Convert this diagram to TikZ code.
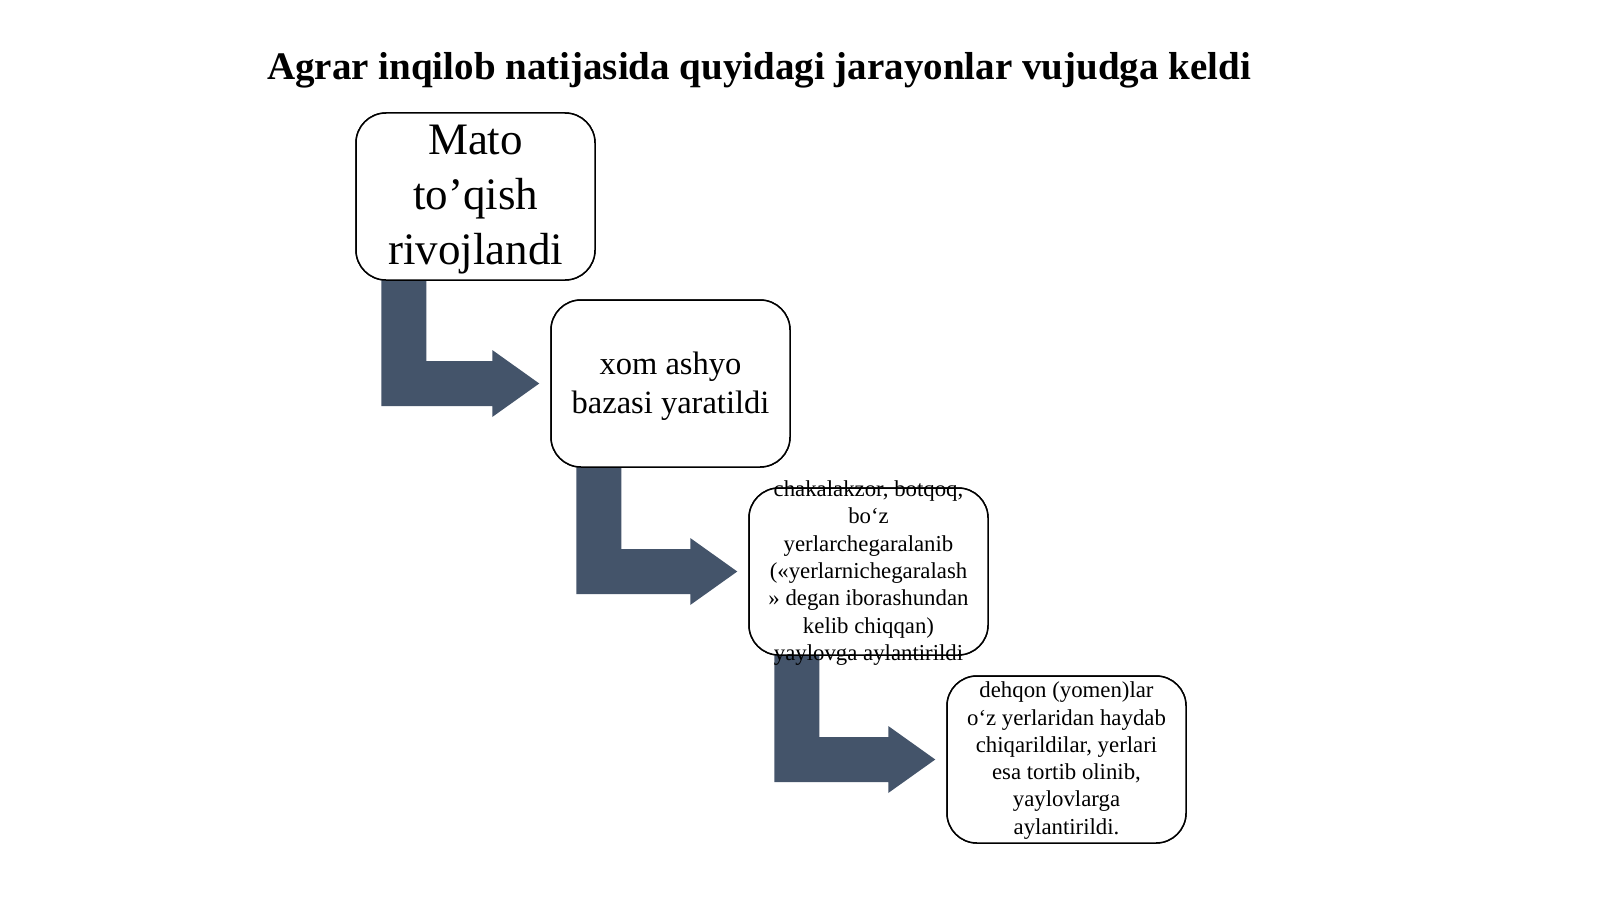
\documentclass[tikz,border=0pt]{standalone}
\usepackage{fontspec}
\setmainfont{Liberation Serif}
\usetikzlibrary{calc}
\definecolor{blkcol}{HTML}{44546A}
\tikzset{
  box/.style={draw=black, fill=white, line width=0.75pt, rounded corners=15pt,
    minimum width=119.5pt, minimum height=83.5pt, inner sep=0pt},
  boxtext/.style={align=center, inner sep=0pt, text=black},
  blk/.style={fill=blkcol}
}
\newcommand\blkarrow[2]{%
  \fill[blk] ($(#1.south west)+(26,-5)$) coordinate (A) -- ++(45,0)
    |- ($(#2.west)+(-58,-22.5)$) -- ++(0,-11) -- ($(#2.west)+(-11,0)$)
    -- ($(#2.west)+(-58,33.5)$) -- ++(0,-11) -| (A) -- cycle;}
\begin{document}
\begin{tikzpicture}[x=0.5pt,y=-0.5pt]
\useasboundingbox[fill=white] (0,0) rectangle (1600,899);
\node[boxtext, font=\fontsize{19.5}{23}\selectfont\bfseries] (title) at (759,70)
  {Agrar inqilob natijasida quyidagi jarayonlar vujudga keldi};
\path (475.5,196.5) coordinate (c1) (670.5,383.5) coordinate (c2)
      (868.5,571.5) coordinate (c3) (1066.5,759.5) coordinate (c4);
\node[box] (b1) at (c1) {};
\node[box] (b2) at (c2) {};
\node[box] (b3) at (c3) {};
\node[box] (b4) at (c4) {};
\blkarrow{b1}{b2}
\blkarrow{b2}{b3}
\blkarrow{b3}{b4}
\node[box] at (c1) {};
\node[box] at (c2) {};
\node[box] at (c3) {};
\node[box] at (c4) {};
\node[boxtext, font=\fontsize{22.5}{27.5}\selectfont] (t1) at ($(b1.center)+(0,3)$)
  {Mato\\to’qish\\rivojlandi};
\node[boxtext, font=\fontsize{16.25}{19.5}\selectfont] (t2) at ($(b2.center)+(0,3)$)
  {xom ashyo\\bazasi yaratildi};
\node[boxtext, font=\fontsize{11.4}{13.65}\selectfont] (t3) at ($(b3.center)+(0,1.5)$)
  {chakalakzor, botqoq,\\bo‘z\\yerlarchegaralanib\\(«yerlarnichegaralash\\» degan iborashundan\\kelib chiqqan)\\yaylovga aylantirildi};
\node[boxtext, font=\fontsize{11.4}{13.65}\selectfont] (t4) at ($(b4.center)+(0,1)$)
  {dehqon (yomen)lar\\o‘z yerlaridan haydab\\chiqarildilar, yerlari\\esa tortib olinib,\\yaylovlarga\\aylantirildi.};
\end{tikzpicture}
\end{document}
